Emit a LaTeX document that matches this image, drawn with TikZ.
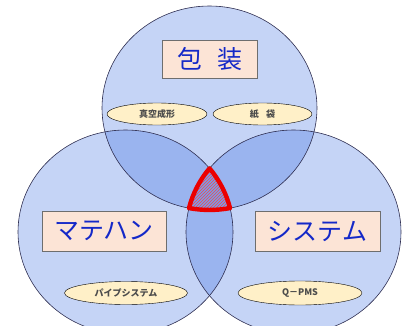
\documentclass[tikz,border=0pt]{standalone}
\usepackage{fontspec}
\setmainfont{Noto Sans CJK JP}
\usetikzlibrary{shapes.geometric,patterns}

\definecolor{ringblue}{rgb}{0.10,0.33,0.86}
\definecolor{ringline}{RGB}{45,45,80}
\definecolor{boxfill}{RGB}{252,228,214}
\definecolor{boxline}{RGB}{110,110,110}
\definecolor{titleblue}{RGB}{20,40,200}
\definecolor{tagfill}{RGB}{255,240,200}
\definecolor{hotred}{RGB}{235,0,0}

\begin{document}
\begin{tikzpicture}[x=1pt,y=1pt,
    ring/.style={fill=ringblue,fill opacity=0.25},
    ringedge/.style={draw=ringline,line width=0.6pt},
    titlebox/.style={draw=boxline,fill=boxfill,text=titleblue,inner sep=0pt,
      font=\fontsize{25}{25}\selectfont},
    tag/.style={ellipse,draw=black,fill=tagfill,inner sep=0pt,text=black!70,
      font=\fontsize{9}{9}\selectfont\bfseries}]
  \useasboundingbox (0,0) rectangle (410,325);
  \clip (0,0) rectangle (410,325);
  % three sets
  \foreach \cx/\cy in {209.5/217,125.5/93,293.5/93}
    \fill[ring] (\cx,\cy) ellipse[x radius=107.5,y radius=102];
  \foreach \cx/\cy in {209.5/217,125.5/93,293.5/93}
    \draw[ringedge] (\cx,\cy) ellipse[x radius=107.5,y radius=102];
  % common part of all three
  \coordinate (apex) at (209.5,156.65);
  \path[pattern=north east lines,pattern color=hotred!70]
    (apex) arc[start angle=141.4,end angle=166.45,x radius=107.5,y radius=102]
    arc[start angle=259,end angle=281,x radius=107.5,y radius=102]
    arc[start angle=13.55,end angle=38.6,x radius=107.5,y radius=102] -- cycle;
  \draw[hotred,line width=4.4pt,line join=round]
    (apex) arc[start angle=141.4,end angle=166.45,x radius=107.5,y radius=102]
    arc[start angle=259,end angle=281,x radius=107.5,y radius=102]
    arc[start angle=13.55,end angle=38.6,x radius=107.5,y radius=102] -- cycle;
  % labels
  \node[titlebox,minimum width=95,minimum height=38] (pack) at (209.5,266) {包\hspace{0.6em}装};
  \node[tag,minimum width=100,minimum height=22] (vacuum) at (157,211) {真空成形};
  \node[tag,minimum width=99,minimum height=22] (bag) at (262.5,211) {紙\hspace{0.8em}袋};
  \node[titlebox,minimum width=124,minimum height=40] (mh) at (104,94) {マテハン};
  \node[titlebox,minimum width=125,minimum height=40] (sys) at (317.5,93.5) {システム};
  \node[tag,minimum width=123,minimum height=23] (pipe) at (126,32) {パイプシステム};
  \node[tag,minimum width=124,minimum height=24] (qpms) at (300,32) {Q－PMS};
\end{tikzpicture}
\end{document}
